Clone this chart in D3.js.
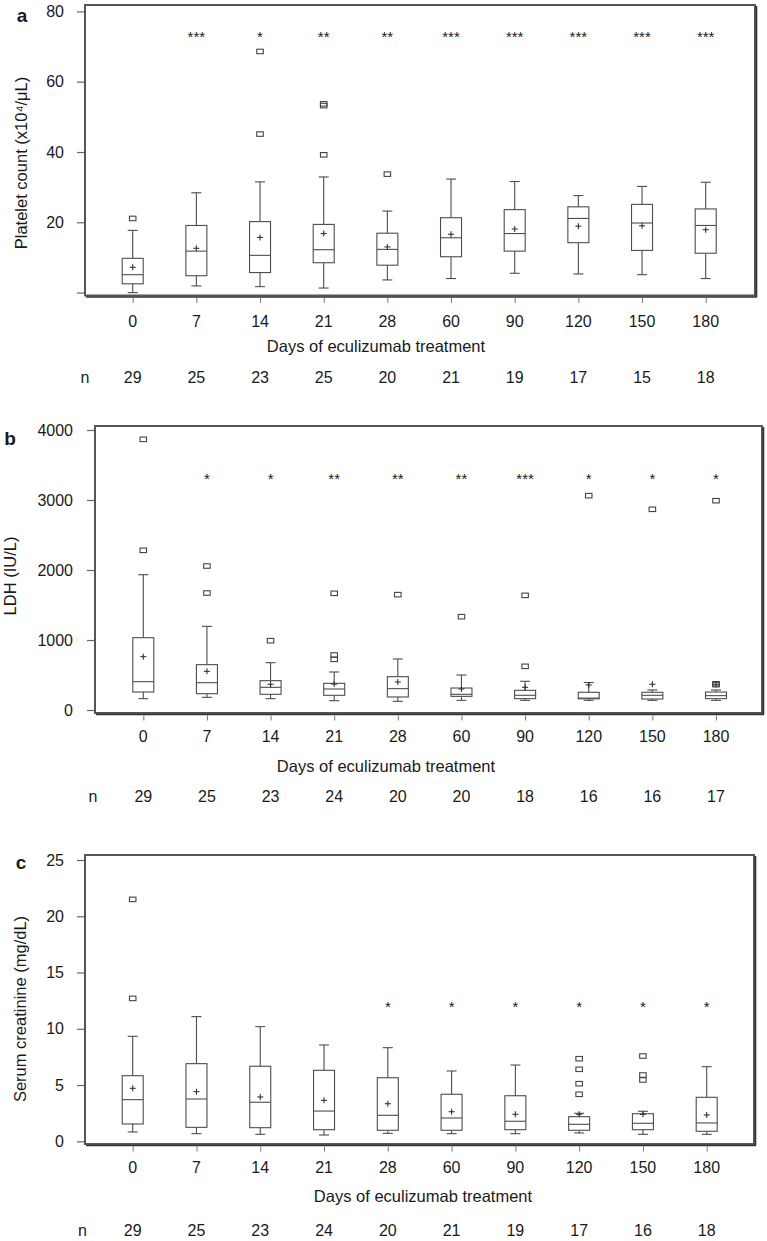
<!DOCTYPE html>
<html>
<head>
<meta charset="utf-8">
<script src="https://cdn.jsdelivr.net/npm/d3@7"></script>
<style>
  html, body { margin: 0; padding: 0; background: #fff; }
  svg { display: block; }
  text { font-family: "Liberation Sans", Arial, Helvetica, sans-serif; fill: #1a1a1a; }
</style>
</head>
<body>
<svg id="chart" width="767" height="1241"></svg>
<script>
// ---------- shared categories ----------
const days = ["0", "7", "14", "21", "28", "60", "90", "120", "150", "180"];
const xTitle = "Days of eculizumab treatment";

// ---------- panel a : platelet count ----------
const plateletLow    = [0, 1.9, 1.7, 1.3, 3.6, 4.0, 5.5, 5.3, 5.1, 4.0];
const plateletQ1     = [2.5, 4.8, 5.7, 8.5, 7.8, 10.2, 11.8, 14.2, 12.0, 11.2];
const plateletMedian = [5.1, 11.8, 10.6, 12.2, 12.3, 15.6, 16.8, 21.1, 19.8, 19.1];
const plateletQ3     = [9.75, 19.1, 20.2, 19.4, 16.9, 21.3, 23.6, 24.4, 25.1, 23.8];
const plateletHigh   = [17.7, 28.4, 31.5, 32.9, 23.2, 32.3, 31.6, 27.6, 30.2, 31.4];
const plateletMean   = [7.2, 12.6, 15.7, 16.8, 13.0, 16.6, 18.1, 18.9, 19.0, 17.9];
const plateletOutliers = [[21.1], [], [45.1, 68.6], [39.2, 53.2, 53.7], [33.7], [], [], [], [], []];
const plateletStars  = ["", "***", "*", "**", "**", "***", "***", "***", "***", "***"];
const plateletN      = [29, 25, 23, 25, 20, 21, 19, 17, 15, 18];
const plateletTicks  = [0, 20, 40, 60, 80];
const plateletTickLabels = ["", "20", "40", "60", "80"];

// ---------- panel b : LDH ----------
const ldhLow    = [162, 181, 162, 133, 124, 138, 138, 138, 138, 138];
const ldhQ1     = [257, 233, 224, 210, 186, 195, 162, 160, 157, 162];
const ldhMedian = [405, 390, 324, 300, 305, 224, 210, 170, 210, 205];
const ldhQ3     = [1033, 648, 419, 381, 476, 314, 281, 253, 253, 257];
const ldhHigh   = [1933, 1195, 676, 543, 729, 500, 410, 392, 286, 286];
const ldhMean   = [762, 552, 367, 370, 400, 300, 324, 357, 367, 367];
const ldhOutliers = [[2281, 3867], [1671, 2057], [990], [724, 786, 1667], [1648], [1333], [624, 1638], [3062], [2867], [362, 374, 2990]];
const ldhStars  = ["", "*", "*", "**", "**", "**", "***", "*", "*", "*"];
const ldhN      = [29, 25, 23, 24, 20, 20, 18, 16, 16, 17];
const ldhTicks  = [0, 1000, 2000, 3000, 4000];
const ldhTickLabels = ["0", "1000", "2000", "3000", "4000"];

// ---------- panel c : serum creatinine ----------
const creLow    = [0.83, 0.68, 0.62, 0.56, 0.71, 0.68, 0.68, 0.74, 0.62, 0.62];
const creQ1     = [1.54, 1.24, 1.21, 1.03, 0.98, 0.98, 1.03, 0.98, 1.03, 0.89];
const creMedian = [3.70, 3.76, 3.47, 2.69, 2.31, 2.07, 1.78, 1.51, 1.60, 1.63];
const creQ3     = [5.83, 6.90, 6.67, 6.31, 5.65, 4.18, 4.05, 2.19, 2.45, 3.91];
const creHigh   = [9.33, 11.08, 10.19, 8.56, 8.32, 6.25, 6.78, 2.49, 2.67, 6.63];
const creMean   = [4.71, 4.41, 3.94, 3.64, 3.34, 2.63, 2.40, 2.40, 2.40, 2.34];
const creOutliers = [[12.7, 21.5], [], [], [], [], [], [], [4.18, 5.12, 6.40, 7.34], [5.45, 5.89, 7.58], []];
const creStars  = ["", "", "", "", "*", "*", "*", "*", "*", "*"];
const creN      = [29, 25, 23, 24, 20, 21, 19, 17, 16, 18];
const creTicks  = [0, 5, 10, 15, 20, 25];
const creTickLabels = ["0", "5", "10", "15", "20", "25"];

// ---------- layout (positions / styles only) ----------
const panels = [
  { letter: "a", title: "Platelet count (x10\u2074/\u03bcL)",
    low: plateletLow, q1: plateletQ1, med: plateletMedian, q3: plateletQ3, high: plateletHigh,
    mean: plateletMean, out: plateletOutliers, stars: plateletStars, n: plateletN,
    ticks: plateletTicks, tickLabels: plateletTickLabels, domain: [0, 80], starLevel: 73.6,
    frame: { l: 85, r: 755, t: 5, b: 295.5 }, yRange: [292.6, 11.4], xRange: [132.7, 705.7],
    tickLabelX: 64, letterX: 22, letterY: 15, titleX: 21.5, titleY: 163,
    xLabelY: 327, xTitleY: 352, xTitleX: 376, nY: 382.5, nX: 85 },
  { letter: "b", title: "LDH (IU/L)",
    low: ldhLow, q1: ldhQ1, med: ldhMedian, q3: ldhQ3, high: ldhHigh,
    mean: ldhMean, out: ldhOutliers, stars: ldhStars, n: ldhN,
    ticks: ldhTicks, tickLabels: ldhTickLabels, domain: [0, 4000], starLevel: 3343,
    frame: { l: 95, r: 762, t: 426, b: 713 }, yRange: [710, 430], xRange: [143.3, 716],
    tickLabelX: 73, letterX: 10, letterY: 438, titleX: 10, titleY: 576,
    xLabelY: 742, xTitleY: 772, xTitleX: 386, nY: 802, nX: 93 },
  { letter: "c", title: "Serum creatinine (mg/dL)",
    low: creLow, q1: creQ1, med: creMedian, q3: creQ3, high: creHigh,
    mean: creMean, out: creOutliers, stars: creStars, n: creN,
    ticks: creTicks, tickLabels: creTickLabels, domain: [0, 25], starLevel: 12.2,
    frame: { l: 85, r: 754, t: 855, b: 1144 }, yRange: [1141.3, 860], xRange: [132.7, 706.7],
    tickLabelX: 64, letterX: 21, letterY: 862, titleX: 20, titleY: 1009,
    xLabelY: 1172.5, xTitleY: 1202, xTitleX: 423, nY: 1236, nX: 82.5 }
];

const svg = d3.select("#chart");
const boxW = 21, capW = 10, plus = 3, outW = 6.5, outH = 4.5;
const lineCol = "#4d4d4d";

panels.forEach(p => {
  const g = svg.append("g");
  const x = d3.scalePoint().domain(days).range(p.xRange);
  const y = d3.scaleLinear().domain(p.domain).range(p.yRange);
  const f = p.frame;

  // frame with shadow on right/bottom
  g.append("rect").attr("x", f.l).attr("y", f.t).attr("width", f.r - f.l).attr("height", f.b - f.t)
    .attr("fill", "none").attr("stroke", "#555").attr("stroke-width", 2);
  g.append("line").attr("x1", f.r + 1.5).attr("x2", f.r + 1.5).attr("y1", f.t + 1).attr("y2", f.b + 1.5)
    .attr("stroke", "#333").attr("stroke-width", 1.6);
  g.append("line").attr("x1", f.l + 1).attr("x2", f.r + 2).attr("y1", f.b + 1.5).attr("y2", f.b + 1.5)
    .attr("stroke", "#333").attr("stroke-width", 1.6);

  // y axis (ticks protrude left of the frame)
  const yAxis = d3.axisLeft(y).tickValues(p.ticks).tickSize(7)
    .tickFormat((d, i) => p.tickLabels[i]);
  const ya = g.append("g").attr("transform", `translate(${f.l - 1},0)`).call(yAxis);
  ya.select(".domain").remove();
  ya.selectAll(".tick line").attr("stroke", "#666").attr("stroke-width", 1.2);
  ya.selectAll(".tick text").attr("x", p.tickLabelX - (f.l - 1)).attr("text-anchor", "end")
    .attr("font-size", 16).attr("fill", "#1a1a1a")
    .attr("font-family", "'Liberation Sans', Arial, sans-serif");

  // x axis ticks below the frame
  const xAxis = d3.axisBottom(x).tickSize(5).tickFormat("");
  const xa = g.append("g").attr("transform", `translate(0,${f.b + 2.5})`).call(xAxis);
  xa.select(".domain").remove();
  xa.selectAll(".tick line").attr("stroke", "#777").attr("stroke-width", 1);

  // x tick labels
  g.selectAll(".xl").data(days).enter().append("text")
    .attr("x", d => x(d)).attr("y", p.xLabelY).attr("text-anchor", "middle")
    .attr("font-size", 16).text(d => d);

  // x title
  g.append("text").attr("x", p.xTitleX).attr("y", p.xTitleY).attr("text-anchor", "middle")
    .attr("font-size", 16.5).text(xTitle);

  // n row
  g.append("text").attr("x", p.nX).attr("y", p.nY).attr("text-anchor", "middle")
    .attr("font-size", 16).text("n");
  g.selectAll(".nl").data(days).enter().append("text")
    .attr("x", d => x(d)).attr("y", p.nY).attr("text-anchor", "middle")
    .attr("font-size", 16).text((d, i) => p.n[i]);

  // y title
  g.append("text").attr("transform", `translate(${p.titleX},${p.titleY}) rotate(-90)`)
    .attr("text-anchor", "middle").attr("dy", "0.35em").attr("font-size", 16.5).text(p.title);

  // panel letter
  g.append("text").attr("x", p.letterX).attr("y", p.letterY).attr("dy", "0.35em")
    .attr("text-anchor", "middle").attr("font-size", 19).attr("font-weight", "bold").text(p.letter);

  // boxes
  const bx = g.selectAll(".bx").data(days).enter().append("g");
  bx.each(function (d, i) {
    const s = d3.select(this);
    const cx = x(d);
    // whiskers
    s.append("line").attr("x1", cx).attr("x2", cx).attr("y1", y(p.q3[i])).attr("y2", y(p.high[i]))
      .attr("stroke", lineCol).attr("stroke-width", 1.1);
    s.append("line").attr("x1", cx).attr("x2", cx).attr("y1", y(p.q1[i])).attr("y2", y(p.low[i]))
      .attr("stroke", lineCol).attr("stroke-width", 1.1);
    s.append("line").attr("x1", cx - capW / 2).attr("x2", cx + capW / 2)
      .attr("y1", y(p.high[i])).attr("y2", y(p.high[i])).attr("stroke", lineCol).attr("stroke-width", 1.1);
    s.append("line").attr("x1", cx - capW / 2).attr("x2", cx + capW / 2)
      .attr("y1", y(p.low[i])).attr("y2", y(p.low[i])).attr("stroke", lineCol).attr("stroke-width", 1.1);
    // box
    s.append("rect").attr("x", cx - boxW / 2).attr("width", boxW)
      .attr("y", y(p.q3[i])).attr("height", Math.max(0.5, y(p.q1[i]) - y(p.q3[i])))
      .attr("fill", "#fff").attr("stroke", lineCol).attr("stroke-width", 1.1);
    // median
    s.append("line").attr("x1", cx - boxW / 2).attr("x2", cx + boxW / 2)
      .attr("y1", y(p.med[i])).attr("y2", y(p.med[i])).attr("stroke", lineCol).attr("stroke-width", 1.1);
    // outliers
    p.out[i].forEach(v => {
      s.append("rect").attr("x", cx - outW / 2).attr("y", y(v) - outH / 2)
        .attr("width", outW).attr("height", outH)
        .attr("fill", "none").attr("stroke", "#444").attr("stroke-width", 1.1);
    });
    // mean plus
    const my = y(p.mean[i]);
    s.append("line").attr("x1", cx - plus).attr("x2", cx + plus).attr("y1", my).attr("y2", my)
      .attr("stroke", "#333").attr("stroke-width", 1.1);
    s.append("line").attr("x1", cx).attr("x2", cx).attr("y1", my - plus).attr("y2", my + plus)
      .attr("stroke", "#333").attr("stroke-width", 1.1);
    // significance stars
    if (p.stars[i]) {
      s.append("text").attr("x", cx).attr("y", y(p.starLevel) + 8).attr("text-anchor", "middle")
        .attr("font-size", 15).attr("fill", "#222").text(p.stars[i]);
    }
  });
});
</script>
</body>
</html>
